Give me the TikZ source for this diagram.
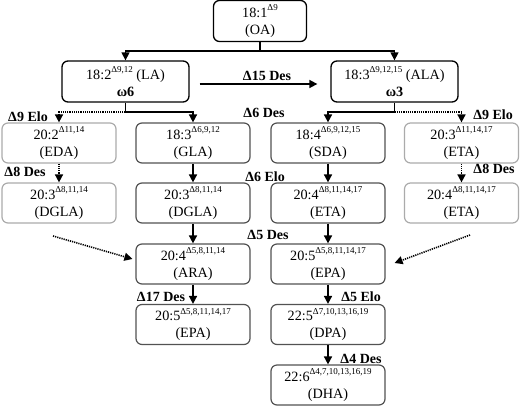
\documentclass[tikz,border=0pt]{standalone}
\usepackage{fontspec}
\setmainfont{Liberation Serif}
\usetikzlibrary{arrows.meta}
\newcommand\sps[1]{\raisebox{0.45em}{\fontsize{9}{9}\selectfont #1}}
\begin{document}
\begin{tikzpicture}[x=1pt,y=-1pt,
 box/.style={draw, rounded corners=6pt, minimum height=41pt, inner sep=0pt, align=center, font=\fontsize{14.2}{17}\selectfont, line width=1.3pt},
 mainbox/.style={box, draw=black},
 darkbox/.style={box, draw=black!68, minimum width=114pt, minimum height=40pt, line width=1.2pt},
 lightbox/.style={box, draw=black!33, minimum width=114pt, minimum height=40pt, line width=1.2pt},
 arr/.style={-{Triangle[length=8pt,width=8pt]}, line width=1.6pt},
 thinarr/.style={-{Triangle[length=8pt,width=8pt]}, line width=1.3pt},
 dot/.style={dash pattern=on 1.2pt off 1pt},
 lab/.style={font=\bfseries\fontsize{14}{14}\selectfont, inner sep=0pt}]
\useasboundingbox (0,0) rectangle (521,407);
% main boxes
\node[mainbox, minimum width=93pt] (OA) at (260,21) {18:1\sps{Δ9}\\(OA)};
\node[mainbox, minimum width=127pt] (LA) at (125.5,81.5) {18:2\sps{Δ9,12} (LA)\\\textbf{ω6}};
\node[mainbox, minimum width=127pt] (ALA) at (394.5,81.5) {18:3\sps{Δ9,12,15} (ALA)\\\textbf{ω3}};
% row 2
\node[lightbox] (EDA) at (59,143) {20:2\sps{Δ11,14}\\(EDA)};
\node[darkbox] (GLA) at (193,143) {18:3\sps{Δ6,9,12}\\(GLA)};
\node[darkbox] (SDA) at (328,143) {18:4\sps{Δ6,9,12,15}\\(SDA)};
\node[lightbox] (ETAa) at (461.5,143) {20:3\sps{Δ11,14,17}\\(ETA)};
% row 3
\node[lightbox] (DGLAl) at (59,203) {20:3\sps{Δ8,11,14}\\(DGLA)};
\node[darkbox] (DGLA) at (193,203) {20:3\sps{Δ8,11,14}\\(DGLA)};
\node[darkbox] (ETAb) at (328,203) {20:4\sps{Δ8,11,14,17}\\(ETA)};
\node[lightbox] (ETAc) at (461.5,203) {20:4\sps{Δ8,11,14,17}\\(ETA)};
% row 4
\node[darkbox] (ARA) at (193,264) {20:4\sps{Δ5,8,11,14}\\(ARA)};
\node[darkbox] (EPAa) at (328,264) {20:5\sps{Δ5,8,11,14,17}\\(EPA)};
% row 5
\node[darkbox] (EPAb) at (193,324.5) {20:5\sps{Δ5,8,11,14,17}\\(EPA)};
\node[darkbox] (DPA) at (328,324.5) {22:5\sps{Δ7,10,13,16,19}\\(DPA)};
% row 6
\node[darkbox] (DHA) at (328,385) {22:6\sps{Δ4,7,10,13,16,19}\\(DHA)};
% junctions
\coordinate (j1) at (260,51);
\coordinate (j2) at (125.5,112);
\coordinate (j3) at (394.5,112);
\coordinate (dl) at (53,236);
\coordinate (dr) at (470,235);
% connectors
\draw[thinarr] (OA.south) -- (j1) -| (LA.north);
\draw[thinarr] (j1) -| (ALA.north);
\draw[arr] ([xshift=10pt,yshift=-2.5pt]LA.east) -- ([xshift=-13pt,yshift=-2.5pt]ALA.west);
\draw[arr] (LA.south) -- (j2) -| (GLA.north);
\draw[arr,dot] (j2) -| (EDA.north);
\draw[arr] (ALA.south) -- (j3) -| (SDA.north);
\draw[arr,dot] (j3) -| (ETAa.north);
\draw[arr,dot] (EDA) -- (DGLAl);
\draw[arr,dot] (ETAa) -- (ETAc);
\draw[arr] (GLA) -- (DGLA);
\draw[arr] (SDA) -- (ETAb);
\draw[arr] (DGLA) -- (ARA);
\draw[arr] (ETAb) -- (EPAa);
\draw[arr] (ARA) -- (EPAb);
\draw[arr] (EPAa) -- (DPA);
\draw[arr] (DPA) -- (DHA);
\draw[arr,dot] (dl) -- ([xshift=-3pt,yshift=5pt]ARA.west);
\draw[arr,dot] (dr) -- ([xshift=9pt,yshift=1pt]EPAa.east);
% labels
\node[lab] (l15) at (267,76) {Δ15 Des};
\node[lab] (l6d) at (264,112.5) {Δ6 Des};
\node[lab] (l9a) at (28,116.5) {Δ9 Elo};
\node[lab] (l9b) at (493,115) {Δ9 Elo};
\node[lab] (l8a) at (25,172) {Δ8 Des};
\node[lab] (l8b) at (494,169) {Δ8 Des};
\node[lab] (l6e) at (265,177) {Δ6 Elo};
\node[lab] (l5d) at (268,235) {Δ5 Des};
\node[lab] (l17) at (161,297) {Δ17 Des};
\node[lab] (l5e) at (361,297) {Δ5 Elo};
\node[lab] (l4d) at (361,359) {Δ4 Des};
\end{tikzpicture}
\end{document}
